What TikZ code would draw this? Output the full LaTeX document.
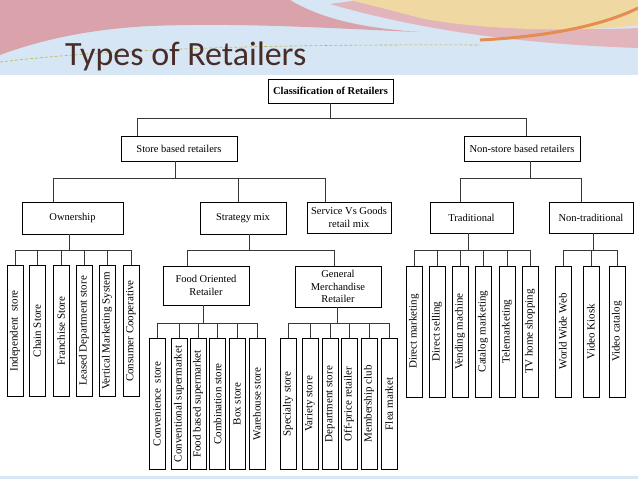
\documentclass[tikz,border=0pt]{standalone}
\usepackage{fontspec}
\setmainfont{Liberation Serif}
\newfontfamily\titlefont{Carlito}
\usepackage{graphicx}
\usetikzlibrary{positioning}
\definecolor{skyband}{RGB}{214,230,244}
\definecolor{rosewave}{RGB}{218,162,170}
\definecolor{sandwave}{RGB}{240,216,162}
\definecolor{amberline}{RGB}{228,140,82}
\definecolor{titlebrown}{RGB}{74,44,38}
\definecolor{wire}{RGB}{55,55,55}
\tikzset{
	box/.style={rectangle, draw=black, line width=0.9pt, fill=white, inner sep=0pt, align=center, font=\fontsize{10.5}{12.5}\selectfont},
	rootbox/.style={box, font=\fontsize{10.5}{12.5}\selectfont\bfseries},
	leaf/.style={box, minimum width=16, minimum height=131, font=\fontsize{11}{12}\selectfont},
	line/.style={draw=wire, line width=1pt}
}

\begin{document}
\begin{tikzpicture}[x=1pt,y=-1pt]
	\useasboundingbox (0,0) rectangle (638,479);
	\fill[white] (0,0) rectangle (638,479);

	% Slide header
	\fill[skyband] (0,0) rectangle (638,75);
	\fill[rosewave] (0,0) -- (290,0) .. controls (320,18) and (360,28) .. (420,32)
		.. controls (360,30) and (250,22) .. (150,26) .. controls (90,29) and (40,40) .. (0,55) -- cycle;
	\fill[rosewave!80] (330,4) .. controls (420,30) and (520,44) .. (638,48) -- (638,28)
		.. controls (560,32) and (450,25) .. (360,0) -- cycle;
	\fill[sandwave] (350,0) -- (638,0) -- (638,25) .. controls (580,33) and (480,30) .. (420,18)
		.. controls (390,10) and (370,5) .. (350,0) -- cycle;
	\draw[amberline, line width=3pt] (480,40) .. controls (560,36) and (610,22) .. (638,8);
	\draw[olive!60, densely dashed, line width=0.6pt] (0,62) .. controls (100,50) and (250,44) .. (480,45);
	\fill[skyband] (0,476) rectangle (638,479);
	\node[anchor=base west, inner sep=0pt, text=titlebrown,
		font=\titlefont\fontsize{34}{40}\selectfont] (title) at (65,65) {Types of Retailers};

	% Upper levels
	\node[rootbox, minimum width=125, minimum height=24] (root) at (330.5,91) {Classification of Retailers};
	\node[box, minimum width=116, minimum height=25] (store) at (179,148.5) {Store based retailers};
	\node[box, minimum width=116, minimum height=25] (nonstore) at (522,148.5) {Non-store based retailers};
	\node[box, minimum width=101, minimum height=32] (own) at (72.5,218) {Ownership};
	\node[box, minimum width=86, minimum height=32] (strat) at (243,218) {Strategy mix};
	\node[box, minimum width=84, minimum height=31] (serv) at (349,217.5) {Service Vs Goods\\retail mix};
	\node[box, minimum width=83, minimum height=31] (trad) at (471.5,217.5) {Traditional};
	\node[box, minimum width=84, minimum height=31] (nontrad) at (591,217.5) {Non-traditional};
	\node[box, minimum width=86, minimum height=39] (food) at (206,285.5) {Food Oriented\\Retailer};
	\node[box, minimum width=86, minimum height=41] (gm) at (338,286.5) {General\\Merchandise\\Retailer};

	% Connections between upper levels
	\draw[line] (root.south) -- ++(0,15) -| ([xshift=-42]store.north);
	\draw[line] (root.south) -- ++(0,15) -| ([xshift=4]nonstore.north);
	\draw[line] ([xshift=-4]store.south) -- ++(0,17) -| ([xshift=-19]own.north);
	\draw[line] ([xshift=-4]store.south) -- ++(0,17) -| ([xshift=-5]strat.north);
	\draw[line] ([xshift=-4]store.south) -- ++(0,17) -| ([xshift=-24]serv.north);
	\draw[line] ([xshift=8]nonstore.south) -- ++(0,17) -| ([xshift=-11]trad.north);
	\draw[line] ([xshift=8]nonstore.south) -- ++(0,17) -| ([xshift=-10]nontrad.north);
	\draw[line] ([xshift=6]strat.south) -- ++(0,16) -| ([xshift=-19]food.north);
	\draw[line] ([xshift=6]strat.south) -- ++(0,16) -| ([xshift=-4]gm.north);

	% Leaves
	\foreach \x/\t [count=\i] in {15/Independent~ store, 37/Chain Store, 61/Franchise Store,
		84/Leased Department store, 107/Vertical Marketing System, 131/Consumer Cooperative}
	{
		\node[leaf] (own-\i) at (\x,331) {\rotatebox{90}{\t}};
		\draw[line] ([xshift=-3.5]own.south) -- ++(0,16) -| (own-\i.north);
	}
	\foreach \x/\t [count=\i] in {157/Convenience~ store, 179/Conventional supermarket,
		198/Food based supermarket, 217.5/Combination store, 237/Box store, 257/Warehouse store}
	{
		\node[leaf] (food-\i) at (\x,404) {\rotatebox{90}{\t}};
		\draw[line] ([xshift=-3]food.south) -- ++(0,18) -| (food-\i.north);
	}
	\foreach \x/\t [count=\i] in {288/Specialty store, 310/Variety store, 330/Department store,
		349/Off-price retailer, 369/Membership club, 389/Flea market}
	{
		\node[leaf] (gm-\i) at (\x,404) {\rotatebox{90}{\t}};
		\draw[line] ([xshift=-1]gm.south) -- ++(0,16) -| (gm-\i.north);
	}
	\foreach \x/\t [count=\i] in {414/Direct marketing, 437/Direct selling, 460/Vending machine,
		483/Catalog marketing, 507/Telemarketing, 530/TV home shopping}
	{
		\node[leaf] (trad-\i) at (\x,331.5) {\rotatebox{90}{\t}};
		\draw[line] ([xshift=-3.5]trad.south) -- ++(0,17) -| (trad-\i.north);
	}
	\foreach \x/\t [count=\i] in {563/World Wide Web, 591/Video Kiosk, 617/Video catalog}
	{
		\node[leaf] (nontrad-\i) at (\x,331.5) {\rotatebox{90}{\t}};
		\draw[line] ([xshift=2]nontrad.south) -- ++(0,17) -| (nontrad-\i.north);
	}
\end{tikzpicture}
\end{document}
